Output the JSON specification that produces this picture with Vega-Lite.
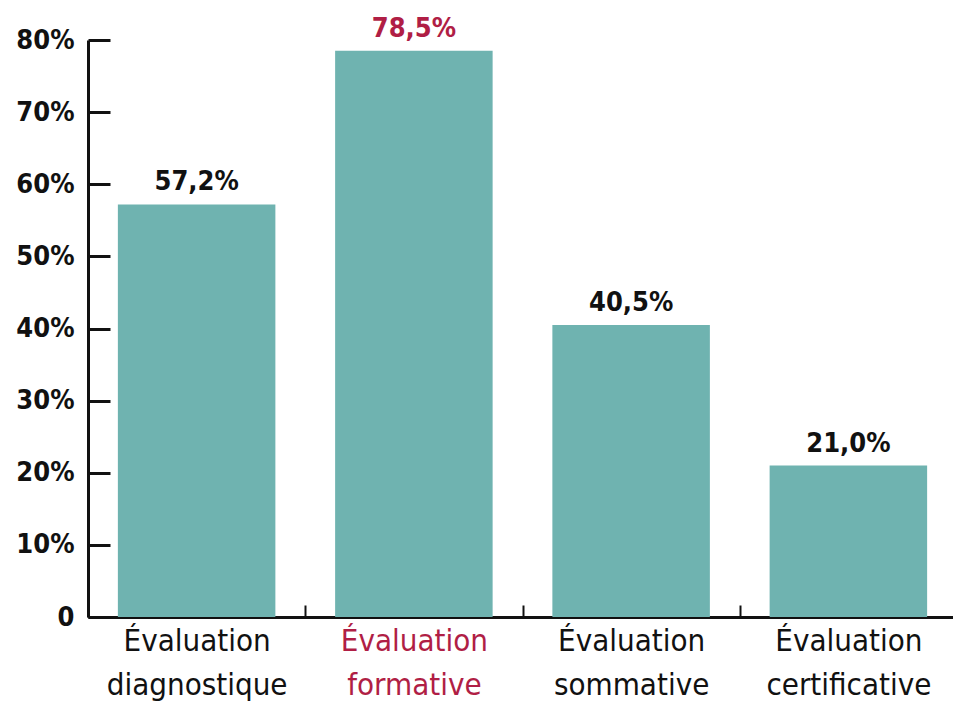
{
  "$schema": "https://vega.github.io/schema/vega-lite/v6.json",
  "width": 869,
  "height": 577,
  "autosize": {"type": "none"},
  "padding": {"left": 88, "top": 40, "right": 0, "bottom": 93},
  "background": "white",
  "config": {"view": {"stroke": null}},
  "data": {"values": [
    {"cat": "Évaluation diagnostique", "value": 57.2},
    {"cat": "Évaluation formative", "value": 78.5},
    {"cat": "Évaluation sommative", "value": 40.5},
    {"cat": "Évaluation certificative", "value": 21.0}
  ]},
  "transform": [
    {"calculate": "replace(format(datum.value, '.1f'), '.', ',') + '%'", "as": "lab"}
  ],
  "encoding": {
    "x": {
      "field": "cat", "type": "nominal", "sort": null,
      "scale": {"paddingInner": 0, "paddingOuter": 0},
      "axis": {
        "title": null, "labelAngle": 0, "labelLimit": 400,
        "labelExpr": "split(datum.label, ' ')",
        "labelFont": "DejaVu Sans Condensed", "labelFontSize": 31, "labelLineHeight": 44,
        "labelColor": {"condition": {"test": "datum.value == 'Évaluation formative'", "value": "#b01e45"}, "value": "#111"},
        "labelPadding": 21,
        "domainColor": "#111", "domainWidth": 3,
        "tickBand": "extent", "tickColor": "#111", "tickWidth": 2, "tickSize": -12
      }
    },
    "y": {
      "field": "value", "type": "quantitative",
      "scale": {"domain": [0, 80]},
      "axis": {
        "title": null, "values": [0,10,20,30,40,50,60,70,80],
        "labelExpr": "datum.value == 0 ? '0' : datum.value + '%'",
        "labelFont": "DejaVu Sans Condensed", "labelFontWeight": "bold", "labelFontSize": 27, "labelColor": "#111",
        "labelPadding": 36, "grid": false,
        "domainColor": "#111", "domainWidth": 3,
        "tickColor": "#111", "tickWidth": 3, "tickSize": -22
      }
    }
  },
  "layer": [
    {"mark": {"type": "bar", "color": "#6fb3b0", "width": {"band": 0.725}}},
    {
      "mark": {"type": "text", "dy": -22, "font": "DejaVu Sans Condensed", "fontWeight": "bold", "fontSize": 27},
      "encoding": {
        "text": {"field": "lab"},
        "color": {"condition": {"test": "datum.cat == 'Évaluation formative'", "value": "#b01e45"}, "value": "#111"}
      }
    }
  ]
}
